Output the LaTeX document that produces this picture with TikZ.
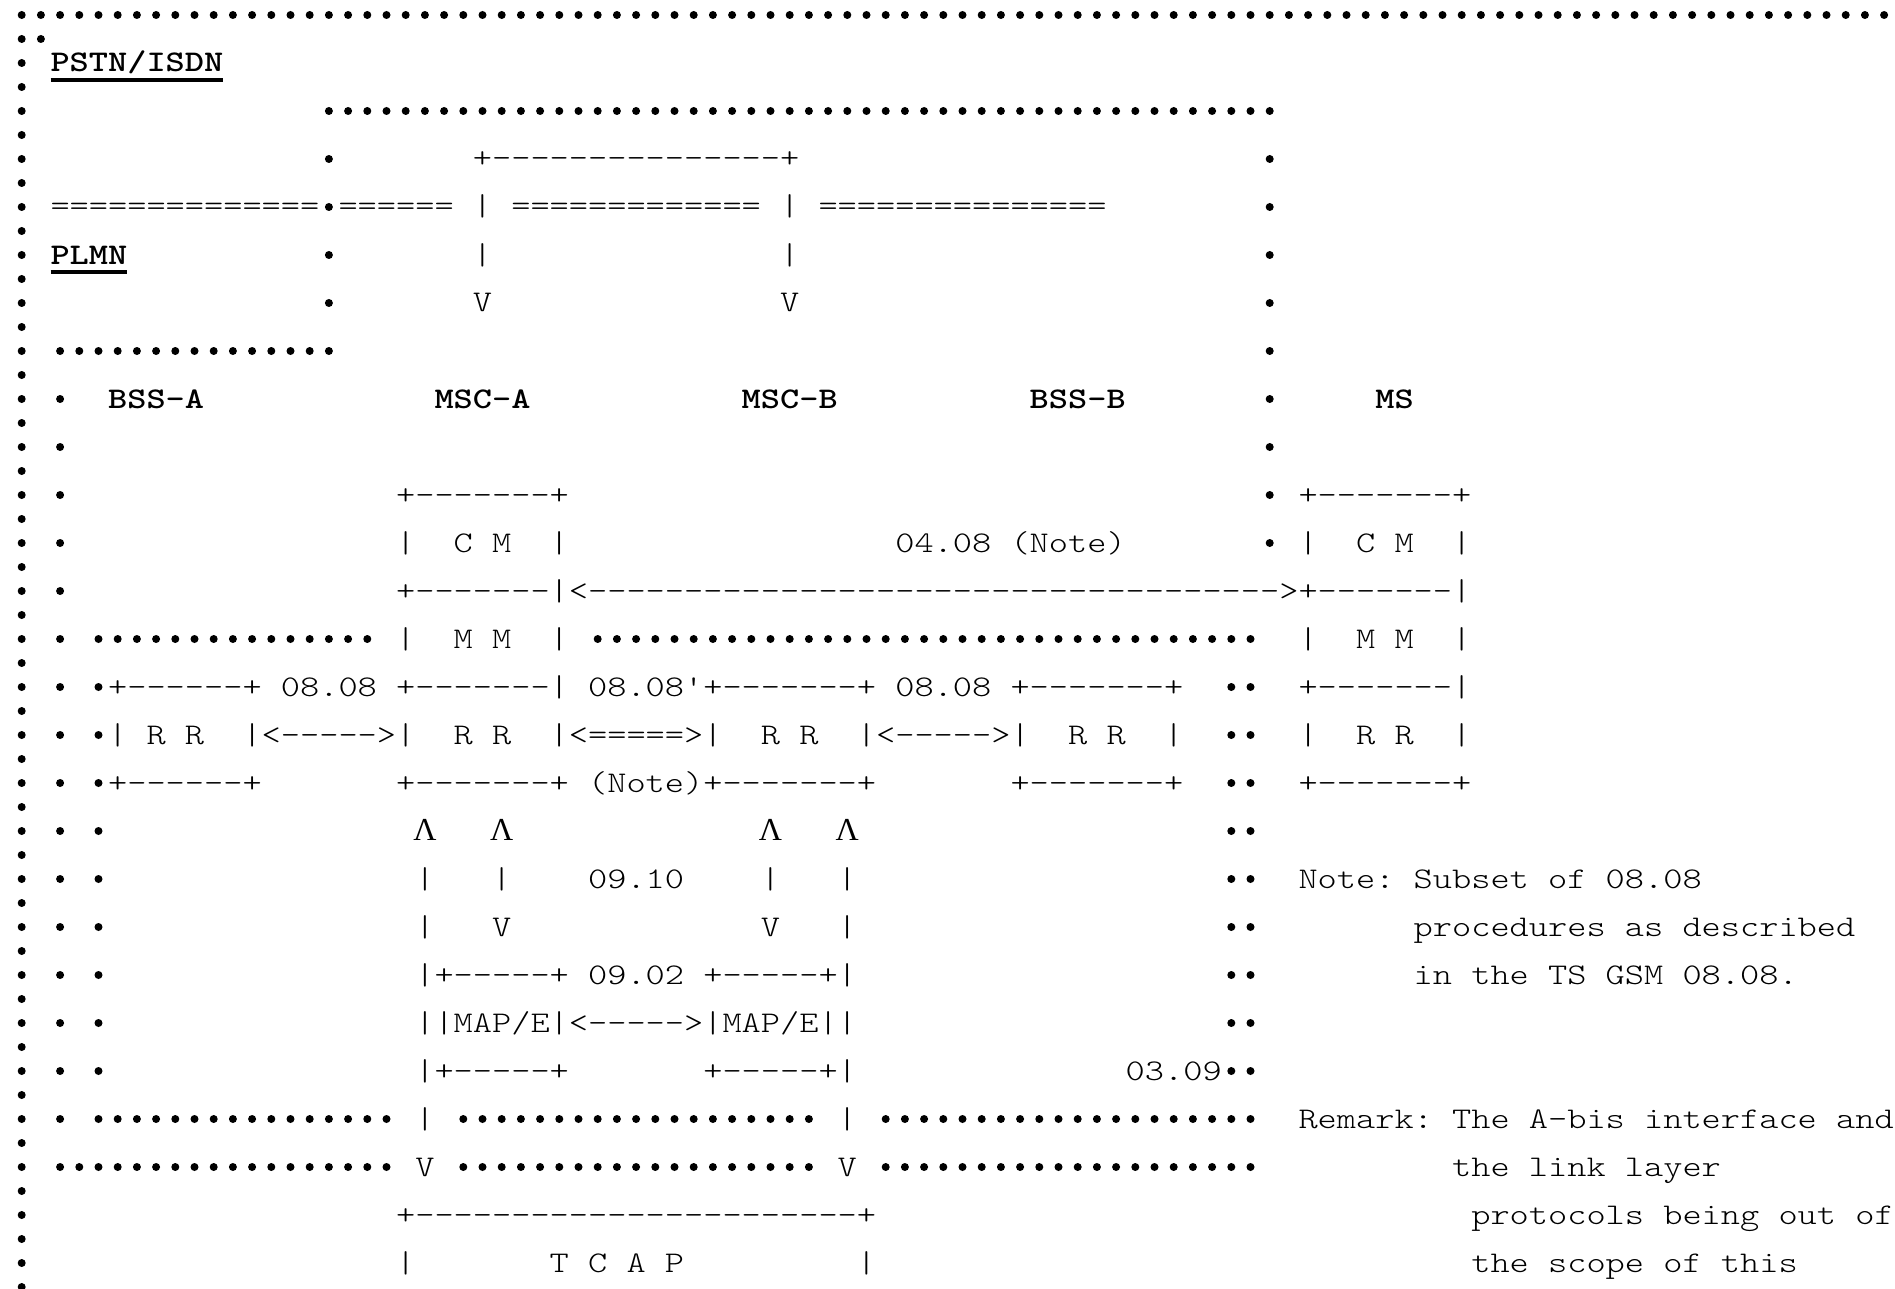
\documentclass[tikz,border=0pt]{standalone}
\usepackage{fontspec}
\usepackage{graphicx}
\newfontfamily\courfont{lmmonolt10}[Extension=.otf,UprightFont=*-regular,BoldFont=*-bold,WordSpace={1,0,0},PunctuationSpace=WordSpace]
\newfontfamily\lamfont{Liberation Serif}
\newcommand\sxf{1.21905}
\newcommand\tx[4]{\node[txt] (#1) at ({12.1+19.2*(#2)},{72+48*(#3)}) {\scalebox{\sxf}[1]{#4}};}
\newcommand\tb[4]{\node[boldtxt] (#1) at ({12.1+19.2*(#2)},{72+48*(#3)}) {\scalebox{\sxf}[1]{#4}};}
\newcommand\lam[3]{\node[lamtxt] (#1) at ({21.7+19.2*(#2)},{72+48*(#3)}) {Λ};}
\newcommand\dr[3]{\foreach \c in {#2,...,#3}{\fill ({21.7+19.2*\c},{63+48*(#1)}) circle[radius=4];}}
\begin{document}
\begin{tikzpicture}[x=0.5pt,y=-0.5pt,
  txt/.style={inner sep=0pt,outer sep=0pt,anchor=base west,font=\courfont\fontsize{15pt}{15pt}\selectfont\frenchspacing},
  boldtxt/.style={txt,font=\courfont\bfseries\fontsize{15pt}{15pt}\selectfont\frenchspacing},
  lamtxt/.style={inner sep=0pt,outer sep=0pt,anchor=base,font=\lamfont\fontsize{16pt}{16pt}\selectfont},
  ul/.style={line width=1.7pt}]
\useasboundingbox (0,0) rectangle (1895,1289);
% dotted borders
\foreach \k in {0,...,53} \fill (21.7,{15+24*\k}) circle[radius=4];
\dr{-1}{1}{97}
\dr{-0.5}{1}{1}
\dr{1}{16}{65}
\foreach \r in {2,...,5}{\dr{\r}{16}{16}\dr{\r}{65}{65}}
\dr{6}{2}{16}\dr{6}{65}{65}
\foreach \r in {7,...,10}{\dr{\r}{2}{2}\dr{\r}{65}{65}}
\dr{11}{2}{2}
\dr{12}{2}{2}\dr{12}{4}{18}\dr{12}{30}{64}
\foreach \r in {13,...,21}{\dr{\r}{2}{2}\dr{\r}{4}{4}\dr{\r}{63}{64}}
\dr{22}{2}{2}\dr{22}{4}{19}\dr{22}{23}{41}\dr{22}{45}{64}
\dr{23}{2}{19}\dr{23}{23}{41}\dr{23}{45}{64}
% texts
\tb{pstn}{2}{0}{PSTN/ISDN}
\draw[ul] ([yshift=-4pt]pstn.base west) -- ([yshift=-4pt]pstn.base east);
\tx{r2}{24}{2}{+---------------+}
\tx{r3a}{2}{3}{==============}
\tx{r3b}{17}{3}{======}
\tx{r3c}{24}{3}{| ============= | ===============}
\tb{plmn}{2}{4}{PLMN}
\draw[ul] ([yshift=-4pt]plmn.base west) -- ([yshift=-4pt]plmn.base east);
\tx{r4a}{24}{4}{|}
\tx{r4b}{40}{4}{|}
\tx{r5a}{24}{5}{V}
\tx{r5b}{40}{5}{V}
\tb{bssa}{5}{7}{BSS-A}
\tb{msca}{22}{7}{MSC-A}
\tb{mscb}{38}{7}{MSC-B}
\tb{bssb}{53}{7}{BSS-B}
\tb{ms}{71}{7}{MS}
\tx{r9a}{20}{9}{+-------+}
\tx{r9b}{67}{9}{+-------+}
\tx{r10a}{20}{10}{|~~C~M~~|}
\tx{r10b}{46}{10}{04.08 (Note)}
\tx{r10c}{67}{10}{|~~C~M~~|}
\tx{r11}{20}{11}{+-------|<------------------------------------>+-------|}
\tx{r12a}{20}{12}{|~~M~M~~|}
\tx{r12b}{67}{12}{|~~M~M~~|}
\tx{r13a}{5}{13}{+------+ 08.08 +-------| 08.08'+-------+ 08.08 +-------+}
\tx{r13b}{67}{13}{+-------|}
\tx{r14a}{5}{14}{|~R~R~~|<----->|~~R~R~~|<=====>|~~R~R~~|<----->|~~R~R~~|}
\tx{r14b}{67}{14}{|~~R~R~~|}
\tx{r15a}{5}{15}{+------+}
\tx{r15b}{20}{15}{+-------+ (Note)+-------+}
\tx{r15c}{52}{15}{+-------+}
\tx{r15d}{67}{15}{+-------+}
\lam{la1}{21}{16}
\lam{la2}{25}{16}
\lam{la3}{39}{16}
\lam{la4}{43}{16}
\tx{r17a}{21}{17}{|}
\tx{r17b}{25}{17}{|}
\tx{r17c}{30}{17}{09.10}
\tx{r17d}{39}{17}{|}
\tx{r17e}{43}{17}{|}
\tx{note1}{67}{17}{Note: Subset of 08.08}
\tx{r18a}{21}{18}{|}
\tx{r18b}{25}{18}{V}
\tx{r18c}{39}{18}{V}
\tx{r18d}{43}{18}{|}
\tx{note2}{73}{18}{procedures as described}
\tx{r19}{21}{19}{|+-----+ 09.02 +-----+|}
\tx{note3}{73}{19}{in the TS GSM 08.08.}
\tx{r20}{21}{20}{||MAP/E|<----->|MAP/E||}
\tx{r21a}{21}{21}{|+-----+}
\tx{r21b}{36}{21}{+-----+|}
\tx{r21c}{58}{21}{03.09}
\tx{r22a}{21}{22}{|}
\tx{r22b}{43}{22}{|}
\tx{rem1}{67}{22}{Remark: The A-bis interface and}
\tx{r23a}{21}{23}{V}
\tx{r23b}{43}{23}{V}
\tx{rem2}{75}{23}{the link layer}
\tx{r24}{20}{24}{+-----------------------+}
\tx{rem3}{76}{24}{protocols being out of}
\tx{r25a}{20}{25}{|}
\tx{r25b}{28}{25}{T C A P}
\tx{r25c}{44}{25}{|}
\tx{rem4}{76}{25}{the scope of this}
\end{tikzpicture}
\end{document}
